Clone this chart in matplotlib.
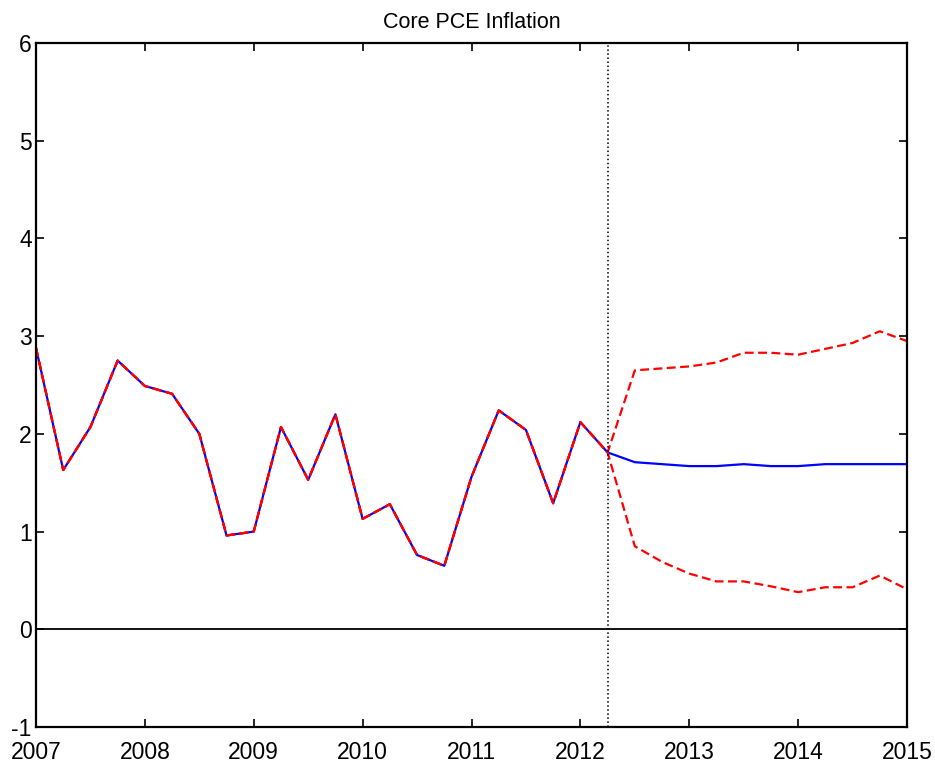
import matplotlib
matplotlib.use("Agg")
import matplotlib.pyplot as plt
import numpy as np

# quarterly history, 2007Q1 .. 2012Q2
hist = [2.88, 1.63, 2.07, 2.75, 2.49, 2.41, 2.00, 0.96, 1.00, 2.07, 1.53, 2.20,
        1.13, 1.28, 0.76, 0.65, 1.56, 2.24, 2.04, 1.29, 2.12, 1.81]
# forecast, 2012Q3 .. 2015Q1
median = [1.71, 1.69, 1.67, 1.67, 1.69, 1.67, 1.67, 1.69, 1.69, 1.69, 1.69]
upper = [2.65, 2.67, 2.69, 2.73, 2.83, 2.83, 2.81, 2.87, 2.93, 3.05, 2.95]
lower = [0.85, 0.69, 0.57, 0.49, 0.49, 0.44, 0.38, 0.43, 0.43, 0.55, 0.41]

start = 2007.0
split = 2012.25
years = list(range(2007, 2016))
yticks = list(range(-1, 7))

plt.rcParams['font.family'] = ['Liberation Sans', 'DejaVu Sans']
plt.rcParams['axes.unicode_minus'] = False

n = len(hist) + len(median)
t = start + 0.25 * np.arange(n)

fig = plt.figure(figsize=(9.35, 7.63), dpi=100)
ax = fig.add_axes([36 / 935, 36 / 763, 871 / 935, 684 / 763])

ax.plot(t, hist + median, color='blue', lw=1.6)
ax.plot(t, hist + upper, color='red', lw=1.6, ls='--', dashes=(4, 2))
ax.plot(t, hist + lower, color='red', lw=1.6, ls='--', dashes=(4, 2))
ax.axhline(0, color='black', lw=1.3)
ax.axvline(split, color='black', lw=1.1, ls=':')

ax.set_xlim(2007, 2015)
ax.set_ylim(-1, 6)
ax.set_xticks(years)
ax.set_yticks(yticks)
ax.tick_params(direction='in', top=True, right=True, length=6, width=1.2,
               labelsize=16.5)
ax.tick_params(axis='x', pad=10)
ax.tick_params(axis='y', pad=3)
for s in ax.spines.values():
    s.set_linewidth(1.6)

ax.set_title('Core PCE Inflation', fontsize=15.5, pad=11)

fig.savefig('out.png', dpi=100)
